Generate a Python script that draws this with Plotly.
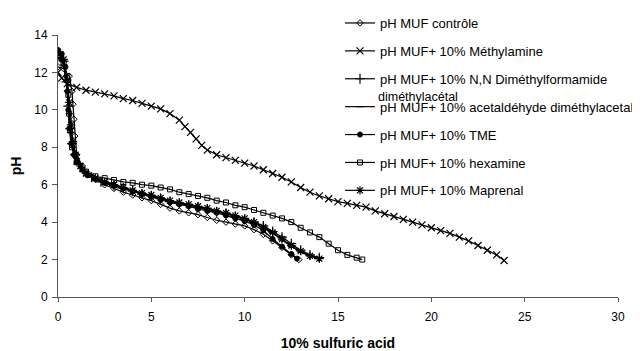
import plotly.graph_objects as go

# ---- data ----
ctrl_x = [0.0, 0.3, 0.6, 0.75, 0.8, 0.85, 0.9, 1.0, 1.3, 1.6, 2.0, 2.5, 3.0, 3.5, 4.0, 4.5, 5.0, 5.5, 6.0, 6.5, 7.0, 7.5, 8.0, 8.5, 9.0, 9.5, 10.0, 10.5, 11.0, 11.5, 12.0, 12.5, 12.9]
ctrl_y = [12.3, 12.2, 11.8, 11.0, 10.3, 9.5, 8.6, 7.6, 7.0, 6.6, 6.3, 6.0, 5.8, 5.6, 5.45, 5.3, 5.15, 4.95, 4.75, 4.6, 4.5, 4.4, 4.25, 4.1, 4.0, 3.9, 3.8, 3.6, 3.35, 3.0, 2.65, 2.25, 2.0]

methyl_x = [0.0, 0.2, 0.5, 1.0, 1.5, 2.0, 2.5, 3.0, 3.5, 4.0, 4.5, 5.0, 5.5, 6.0, 6.5, 6.8, 7.1, 7.4, 7.7, 8.0, 8.5, 9.0, 9.5, 10.0, 10.5, 11.0, 11.5, 12.0, 12.5, 13.0, 13.5, 14.0, 14.5, 15.0, 15.5, 16.0, 16.5, 17.0, 17.5, 18.0, 18.5, 19.0, 19.5, 20.0, 20.5, 21.0, 21.5, 22.0, 22.5, 23.0, 23.5, 23.9]
methyl_y = [12.0, 11.7, 11.4, 11.2, 11.05, 10.95, 10.85, 10.75, 10.6, 10.5, 10.35, 10.2, 10.05, 9.8, 9.45, 9.1, 8.8, 8.45, 8.1, 7.85, 7.6, 7.45, 7.3, 7.15, 7.0, 6.8, 6.6, 6.4, 6.15, 5.85, 5.6, 5.4, 5.25, 5.1, 5.0, 4.9, 4.8, 4.6, 4.45, 4.3, 4.15, 4.0, 3.85, 3.7, 3.55, 3.4, 3.2, 3.0, 2.75, 2.5, 2.25, 1.95]

dmf_x = [0.0, 0.3, 0.45, 0.55, 0.65, 0.75, 0.9, 1.1, 1.4, 1.8, 2.3, 3.0, 3.5, 4.0, 4.5, 5.0, 5.5, 6.0, 6.5, 7.0, 7.5, 8.0, 8.5, 9.0, 9.5, 10.0, 10.5, 11.0, 11.5, 12.0, 12.5, 13.0, 13.5, 14.0]
dmf_y = [13.0, 12.6, 11.5, 10.2, 9.0, 8.2, 7.6, 7.1, 6.7, 6.4, 6.15, 5.95, 5.8, 5.65, 5.5, 5.4, 5.25, 5.1, 5.0, 4.9, 4.8, 4.7, 4.55, 4.45, 4.3, 4.15, 4.0, 3.8, 3.5, 3.2, 2.85, 2.5, 2.25, 2.1]

acet_x = [0.0, 0.3, 0.5, 0.6, 0.7, 0.8, 1.0, 1.3, 1.7, 2.2, 3.0, 3.5, 4.0, 4.5, 5.0, 5.5, 6.0, 6.5, 7.0, 7.5, 8.0, 8.5, 9.0, 9.5, 10.0, 10.5, 11.0, 11.5, 12.0, 12.5, 13.0, 13.5, 13.9]
acet_y = [12.8, 12.4, 11.0, 9.8, 8.8, 8.0, 7.4, 6.9, 6.55, 6.3, 6.0, 5.85, 5.7, 5.55, 5.4, 5.3, 5.15, 5.05, 4.95, 4.8, 4.7, 4.6, 4.45, 4.3, 4.15, 3.95, 3.7, 3.4, 3.05, 2.7, 2.4, 2.2, 2.05]

tme_x = [0.0, 0.2, 0.4, 0.5, 0.55, 0.6, 0.7, 0.85, 1.0, 1.3, 1.6, 2.0, 2.5, 3.0, 3.5, 4.0, 4.5, 5.0, 5.5, 6.0, 6.5, 7.0, 7.5, 8.0, 8.5, 9.0, 9.5, 10.0, 10.5, 11.0, 11.5, 12.0, 12.5, 12.8]
tme_y = [13.2, 13.0, 12.3, 11.0, 10.0, 9.0, 8.2, 7.6, 7.2, 6.8, 6.5, 6.3, 6.1, 5.95, 5.8, 5.65, 5.5, 5.35, 5.2, 5.05, 4.95, 4.85, 4.7, 4.6, 4.5, 4.35, 4.2, 4.05, 3.85, 3.55, 3.1, 2.7, 2.3, 2.05]

hexa_x = [0.0, 0.3, 0.5, 0.55, 0.6, 0.65, 0.75, 1.0, 1.5, 2.0, 2.5, 3.0, 3.5, 4.0, 4.5, 5.0, 5.5, 6.0, 6.5, 7.0, 7.5, 8.0, 8.5, 9.0, 9.5, 10.0, 10.5, 11.0, 11.5, 12.0, 12.5, 13.0, 13.5, 14.0, 14.5, 15.0, 15.5, 16.0, 16.3]
hexa_y = [12.8, 12.5, 11.8, 10.8, 9.8, 8.9, 8.0, 7.2, 6.7, 6.45, 6.35, 6.25, 6.15, 6.1, 6.0, 5.95, 5.85, 5.75, 5.6, 5.5, 5.4, 5.3, 5.15, 5.05, 4.9, 4.8, 4.65, 4.5, 4.35, 4.2, 4.0, 3.7, 3.45, 3.2, 2.85, 2.5, 2.25, 2.1, 2.0]

mapr_x = [0.0, 0.3, 0.5, 0.6, 0.7, 0.8, 0.95, 1.2, 1.5, 2.0, 2.5, 3.0, 3.5, 4.0, 4.5, 5.0, 5.5, 6.0, 6.5, 7.0, 7.5, 8.0, 8.5, 9.0, 9.5, 10.0, 10.5, 11.0, 11.5, 12.0, 12.5, 13.0, 13.5, 14.0]
mapr_y = [13.1, 12.7, 11.6, 10.4, 9.2, 8.3, 7.6, 7.0, 6.6, 6.35, 6.15, 6.0, 5.85, 5.7, 5.55, 5.45, 5.3, 5.15, 5.05, 4.95, 4.85, 4.75, 4.6, 4.5, 4.35, 4.2, 4.0, 3.75, 3.45, 3.1, 2.75, 2.45, 2.2, 2.05]

names = [
    "pH MUF contrôle",
    "pH MUF+ 10% Méthylamine",
    "pH MUF+ 10% N,N Diméthylformamide",
    "pH MUF+ 10% acetaldéhyde diméthylacetal",
    "pH MUF+ 10% TME",
    "pH MUF+ 10% hexamine",
    "pH MUF+ 10% Maprenal",
]
extra_label = "diméthylacétal"
x_ticks = [0, 5, 10, 15, 20, 25, 30]
y_ticks = [0, 2, 4, 6, 8, 10, 12, 14]

series = [
    (ctrl_x, ctrl_y, dict(symbol="diamond-open", size=5)),
    (methyl_x, methyl_y, dict(symbol="x-thin-open", size=7, line=dict(width=1.2, color="black"))),
    (dmf_x, dmf_y, dict(symbol="cross-thin-open", size=7, line=dict(width=1.2, color="black"))),
    (acet_x, acet_y, dict(symbol="line-ew-open", size=5, line=dict(width=1.2, color="black"))),
    (tme_x, tme_y, dict(symbol="circle", size=5)),
    (hexa_x, hexa_y, dict(symbol="square-open", size=5)),
    (mapr_x, mapr_y, dict(symbol="asterisk-open", size=7, line=dict(width=1.2, color="black"))),
]

FONT = "Liberation Sans, Arial, sans-serif"
fig = go.Figure()
for i, (xs, ys, mk) in enumerate(series):
    mk = dict(mk)
    mk.setdefault("color", "black")
    if "line" not in mk:
        mk["line"] = dict(width=1, color="black")
    fig.add_trace(go.Scatter(
        x=xs, y=ys, mode="lines+markers", name=names[i], legendgroup=f"g{i}",
        line=dict(color="black", width=1.2), marker=mk,
    ))

fig.add_annotation(
    text=extra_label, xref="paper", yref="paper",
    x=(376 - 58) / 560, y=(297 - 97) / 262, xanchor="left", yanchor="middle",
    showarrow=False, font=dict(family=FONT, size=12.5, color="black"),
)

# page body has an 8px default margin: figure is 632x343 so it fills the 640x351 window
fig.update_layout(
    width=632, height=343,
    margin=dict(l=50, r=22, t=27, b=54, autoexpand=False),
    paper_bgcolor="white", plot_bgcolor="white",
    font=dict(family=FONT, size=12, color="black"),
    showlegend=True,
    legend=dict(
        x=(340 - 58) / 560, y=(297 - 8) / 262, xanchor="left", yanchor="top",
        bgcolor="rgba(0,0,0,0)", font=dict(family=FONT, size=13, color="black"),
        tracegroupgap=8, itemwidth=30, maxheight=320,
    ),
    xaxis=dict(
        range=[0, 30], tickvals=x_ticks, showgrid=False, zeroline=False, automargin=False,
        showline=True, linecolor="#555", linewidth=1, ticks="outside", ticklen=4,
        tickcolor="#555", title=dict(text="<b>10% sulfuric acid</b>", font=dict(size=14), standoff=16),
        tickfont=dict(size=12), ticklabelstandoff=5,
    ),
    yaxis=dict(
        range=[0, 14], tickvals=y_ticks, showgrid=False, zeroline=False, automargin=False,
        showline=True, linecolor="#555", linewidth=1, ticks="outside", ticklen=5,
        tickcolor="#555", title=dict(text="<b>pH</b>", font=dict(size=14), standoff=20),
        tickfont=dict(size=12), ticklabelstandoff=2,
    ),
)

fig.write_html("out.html")
